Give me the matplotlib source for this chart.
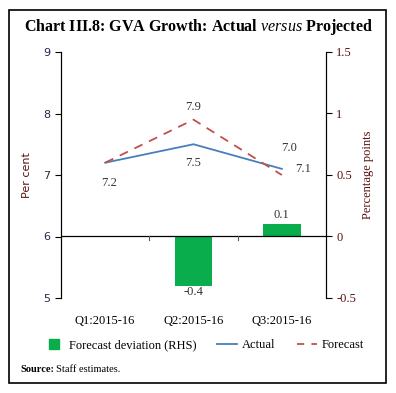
import numpy as np
import matplotlib.pyplot as plt
from matplotlib.patches import Rectangle

# 数据
quarters = ['Q1:2015-16', 'Q2:2015-16', 'Q3:2015-16']
actual = [7.2, 7.5, 7.1]
forecast = [7.2, 7.9, 7.0]
deviation = [0.0, -0.4, 0.1]
dev_labels = ['', '-0.4', '0.1']

SERIF = 'Liberation Serif'
plt.rcParams['mathtext.fontset'] = 'custom'
plt.rcParams['mathtext.it'] = 'Liberation Serif:italic'
plt.rcParams['mathtext.rm'] = 'Liberation Serif'
c_actual = '#4a7ebb'
c_fcst = '#c0504d'
c_bar = '#0aad4b'

fig = plt.figure(figsize=(3.96, 3.93), dpi=100)
fig.patches.append(Rectangle((9/396, 1-383/393), 377/396, 373/393, transform=fig.transFigure,
                             fill=False, edgecolor='black', linewidth=1.2))

ax = fig.add_axes([61/396, 1-298/393, 265/396, 246/393])
ax2 = ax.twinx()
x = np.arange(len(quarters))

# 柱状图（右轴）
ax2.bar(x, deviation, width=0.43, color=c_bar, zorder=2)
ax2.set_ylim(-0.5, 1.5)
ax2.set_yticks([-0.5, 0, 0.5, 1, 1.5])
ax2.set_yticklabels(['-0.5', '0', '0.5', '1', '1.5'], family=SERIF, fontsize=9, color='#5a1010')
ax2.axhline(0, color='black', lw=0.9, zorder=3)
for xi, d, lab in zip(x, deviation, dev_labels):
    if lab:
        off = 9 if d > 0 else -6
        ax2.annotate(lab, (xi, d), xytext=(0, off), textcoords='offset pixels',
                     ha='center', va='center', family=SERIF, fontsize=9, color='#333333')
for xm in [0.5, 1.5]:
    ax2.plot([xm, xm], [0, -0.025], color='#555555', lw=0.8, zorder=3)

# 折线（左轴）
ax.set_zorder(ax2.get_zorder() + 1)
ax.patch.set_visible(False)
ax.plot(x, actual, color=c_actual, lw=1.3)
ax.plot(x, forecast, color=c_fcst, lw=1.3, dashes=(5, 4))
ax.set_xlim(-0.5, 2.5)
ax.set_ylim(5, 9)
ax.set_yticks([5, 6, 7, 8, 9])
ax.tick_params(axis='y', labelsize=8, labelcolor='#1f2a4a', length=4)
ax2.tick_params(axis='y', length=4)
ax.set_xticks(x)
ax.set_xticklabels(quarters, family=SERIF, fontsize=9)
ax.tick_params(axis='x', length=0, pad=12)

offsets = [((4, -20), (4, -20)), ((0, -19), (0, 13)), ((21, 0), (7, 27))]
for i in range(3):
    ax.annotate(f'{actual[i]:.1f}', (x[i], actual[i]), xytext=offsets[i][0],
                textcoords='offset pixels', ha='center', va='center',
                family=SERIF, fontsize=9, color='#333333')
    if i > 0:
        ax.annotate(f'{forecast[i]:.1f}', (x[i], forecast[i]), xytext=offsets[i][1],
                    textcoords='offset pixels', ha='center', va='center',
                    family=SERIF, fontsize=9, color='#333333')

for a in (ax, ax2):
    a.spines['top'].set_visible(False)
    a.spines['bottom'].set_visible(False)
ax.set_ylabel('Per cent', fontsize=8, color='#5a1010', labelpad=8)
ax2.set_ylabel('Percentage points', family=SERIF, fontsize=9, color='#5a1010', labelpad=4)

# 标题
fig.text(0.5, 1-27/393, r'Chart III.8: GVA Growth: Actual $\it{versus}$ Projected',
         ha='center', va='center', family=SERIF, fontsize=11.5, weight='bold')

# 图例
handles = [plt.Line2D([], [], ls='none', marker='s', markersize=7.5, color=c_bar),
           plt.Line2D([], [], color=c_actual, lw=1.3),
           plt.Line2D([], [], color=c_fcst, lw=1.3, dashes=(4, 4))]
fig.legend(handles, ['Forecast deviation (RHS)', 'Actual', 'Forecast'],
           loc='center', bbox_to_anchor=(0.515, 1-345/393), ncol=3, frameon=False,
           prop={'family': SERIF, 'size': 9}, handlelength=1.6, columnspacing=1.7,
           handletextpad=0.4)

fig.text(20/396, 1-370/393, 'Source:', family=SERIF, fontsize=7.5, weight='bold', va='center')
fig.text(56/396, 1-370/393, 'Staff estimates.', family=SERIF, fontsize=7.5, va='center')

plt.savefig('out.png', dpi=100)
